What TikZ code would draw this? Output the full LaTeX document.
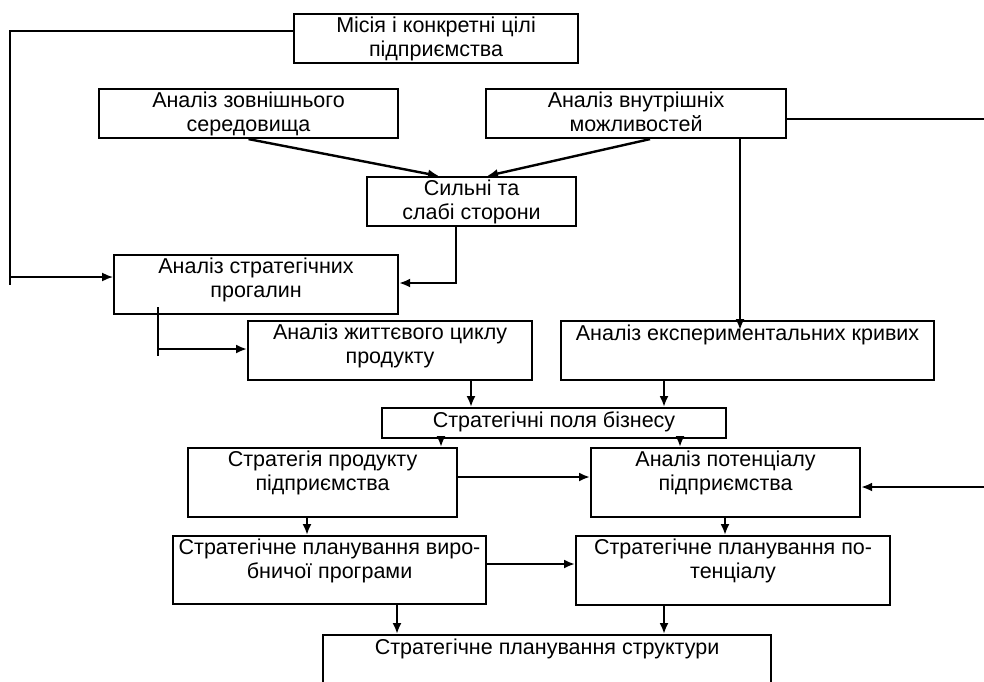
\documentclass[tikz,border=0pt]{standalone}
\usepackage{fontspec}
\setmainfont{Liberation Sans}
\usetikzlibrary{arrows.meta,calc}

\tikzset{
  box/.style={draw, line width=2.1pt, rectangle, inner sep=0pt, anchor=north west},
  boxtext/.style={anchor=north, align=center, inner sep=0pt, yshift=-3.5pt,
    font=\fontsize{21.5}{24.3}\selectfont, execute at begin node=\strut},
  wire/.style={line width=2.4pt},
  thinwire/.style={line width=1.5pt},
  conn/.style={line width=2.4pt, -{Latex[length=11pt,width=9pt]}},
}

% #1 name, (#2,#3) top-left corner, (#4,#5) bottom-right corner, #6 caption
\newcommand\flowbox[6]{%
  \node[box, minimum width={#4pt-#2pt}, minimum height={#5pt-#3pt}] (#1) at (#2,#3) {};
  \node[boxtext] (#1-t) at (#1.north) {#6};
}

\begin{document}
\begin{tikzpicture}[x=1pt, y=-1pt]
\useasboundingbox (0,0) rectangle (984,681);

% blocks
\flowbox{mis}{293}{13}{577}{62}{Місія і конкретні цілі\\підприємства}
\flowbox{ext}{98}{88}{397}{137}{Аналіз зовнішнього\\середовища}
\flowbox{int}{485}{88}{785}{137}{Аналіз внутрішніх\\можливостей}
\flowbox{sw}{366}{176}{575}{225}{Сильні та\\слабі сторони}
\flowbox{gap}{113}{254}{397}{313}{Аналіз стратегічних\\прогалин}
\flowbox{life}{247}{320}{531}{379}{Аналіз життєвого циклу\\продукту}
\flowbox{exp}{560}{320}{933}{379}{Аналіз експериментальних кривих}
\flowbox{field}{381}{407}{725}{437}{Стратегічні поля бізнесу}
\flowbox{prod}{187}{447}{456}{516}{Стратегія продукту\\підприємства}
\flowbox{pot}{590}{447}{859}{516}{Аналіз потенціалу\\підприємства}
\flowbox{ppl}{172}{535}{485}{603}{Стратегічне планування виро-\\бничої програми}
\flowbox{ppot}{575}{535}{889}{604}{Стратегічне планування по-\\тенціалу}
\flowbox{struct}{322}{634}{770}{700}{Стратегічне планування структури}

% auxiliary points of the routed lines
\coordinate (lbusTop) at (10,31);
\coordinate (lbusEnd) at (10,285);
\coordinate (rbusTop) at (990,119);
\coordinate (rbusBot) at (990,487);
\coordinate (swTurn) at (456,283);
\coordinate (gapTop) at (158,307);
\coordinate (gapEnd) at (158,356);
\coordinate (expIn) at (740,330);

% mission loop on the left
\draw[thinwire] (mis.west |- lbusTop) -- (lbusTop) -- (lbusEnd);
\draw[conn, line width=1.6pt] (10,277) -- (gap.west |- 0,277);

% inputs of the strengths/weaknesses block
\draw[conn] (ext.south) -- (sw.north -| 439,0);
\draw[conn] (int.south -| 650,0) -- (sw.north -| 487,0);
\draw[conn] (sw.south -| swTurn) -- (swTurn) -- (gap.east |- swTurn);

% internal capabilities
\draw[conn] (int.south -| expIn) -- (expIn);
\draw[conn] (int.east |- rbusTop) -- (rbusTop) -- (rbusBot) -- (pot.east |- rbusBot);

% strategic gaps to product life cycle
\draw[wire] (gapTop) -- (gapEnd);
\draw[conn] (158,349) -- (life.west |- 0,349);

% business fields
\draw[conn] (life.south -| 471,0) -- (field.north -| 471,0);
\draw[conn] (exp.south -| 664,0) -- (field.north -| 664,0);
\draw[conn] (field.south -| 441,0) -- (prod.north -| 441,0);
\draw[conn] (field.south -| 680,0) -- (pot.north -| 680,0);

% planning
\draw[conn] (prod.east |- 0,477) -- (pot.west |- 0,477);
\draw[conn] (prod.south -| 307,0) -- (ppl.north -| 307,0);
\draw[conn] (pot.south -| 725,0) -- (ppot.north -| 725,0);
\draw[conn] (ppl.east |- 0,564) -- (ppot.west |- 0,564);
\draw[conn] (ppl.south -| 397,0) -- (struct.north -| 397,0);
\draw[conn] (ppot.south -| 664,0) -- (struct.north -| 664,0);
\end{tikzpicture}
\end{document}
